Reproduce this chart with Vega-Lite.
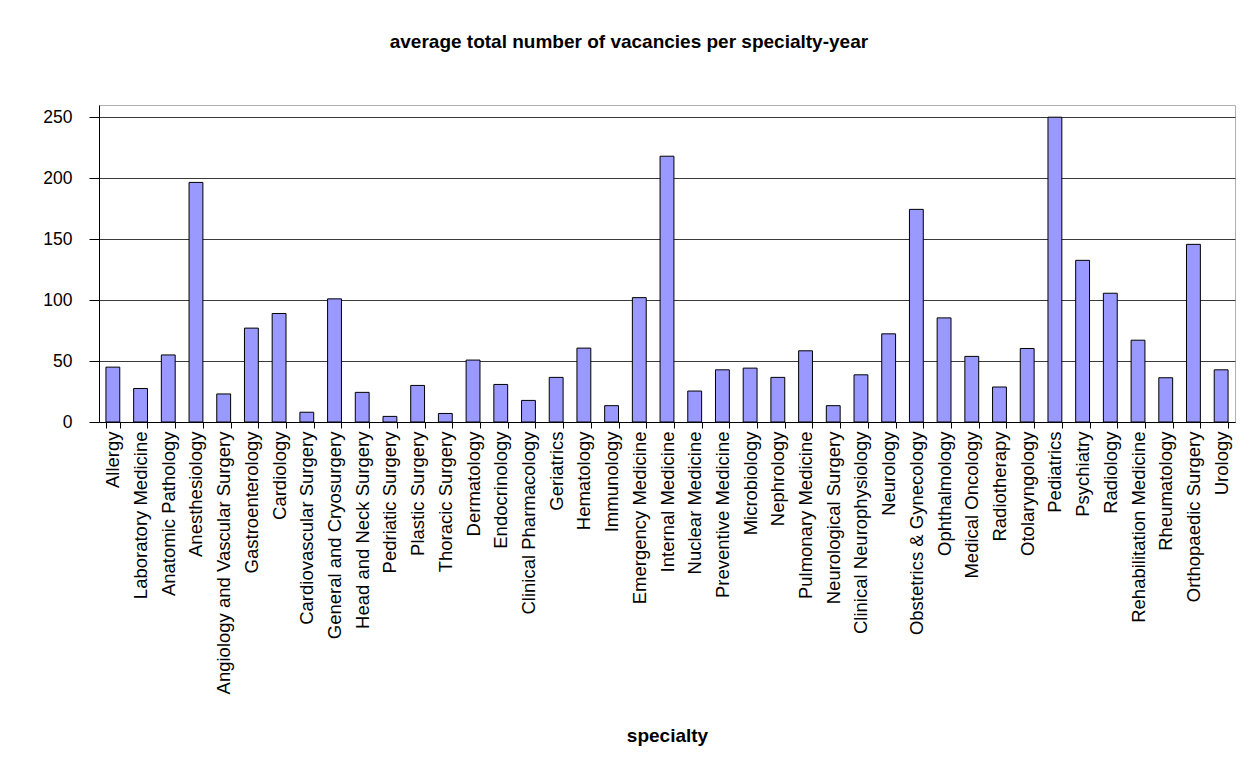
{
  "$schema": "https://vega.github.io/schema/vega-lite/v6.json",
  "width": 1136,
  "height": 317,
  "padding": {"left": 42, "top": 33, "right": 18, "bottom": 10},
  "background": "white",
  "title": {
    "text": "average total number of vacancies per specialty-year",
    "font": "Liberation Sans",
    "fontSize": 19,
    "fontWeight": "bold",
    "color": "black",
    "anchor": "middle",
    "frame": "bounds",
    "dx": -10,
    "offset": 53
  },
  "data": {
    "values": [
      {"specialty": "Allergy", "vacancies": 45},
      {"specialty": "Laboratory Medicine", "vacancies": 27.5},
      {"specialty": "Anatomic Pathology", "vacancies": 55},
      {"specialty": "Anesthesiology", "vacancies": 196.5},
      {"specialty": "Angiology and Vascular Surgery", "vacancies": 23},
      {"specialty": "Gastroenterology", "vacancies": 77},
      {"specialty": "Cardiology", "vacancies": 89},
      {"specialty": "Cardiovascular Surgery", "vacancies": 8},
      {"specialty": "General and Cryosurgery", "vacancies": 101},
      {"specialty": "Head and Neck Surgery", "vacancies": 24.3},
      {"specialty": "Pedriatic Surgery", "vacancies": 4.6},
      {"specialty": "Plastic Surgery", "vacancies": 30},
      {"specialty": "Thoracic Surgery", "vacancies": 7},
      {"specialty": "Dermatology", "vacancies": 50.8},
      {"specialty": "Endocrinology", "vacancies": 30.8},
      {"specialty": "Clinical Pharmacology", "vacancies": 17.7},
      {"specialty": "Geriatrics", "vacancies": 36.6},
      {"specialty": "Hematology", "vacancies": 60.6},
      {"specialty": "Immunology", "vacancies": 13.4},
      {"specialty": "Emergency Medicine", "vacancies": 102},
      {"specialty": "Internal Medicine", "vacancies": 218},
      {"specialty": "Nuclear Medicine", "vacancies": 25.4},
      {"specialty": "Preventive Medicine", "vacancies": 42.8},
      {"specialty": "Microbiology", "vacancies": 44.2},
      {"specialty": "Nephrology", "vacancies": 36.6},
      {"specialty": "Pulmonary Medicine", "vacancies": 58.4},
      {"specialty": "Neurological Surgery", "vacancies": 13.4},
      {"specialty": "Clinical Neurophysiology", "vacancies": 38.7},
      {"specialty": "Neurology", "vacancies": 72.3},
      {"specialty": "Obstetrics & Gynecology", "vacancies": 174.4},
      {"specialty": "Ophthalmology", "vacancies": 85.4},
      {"specialty": "Medical Oncology", "vacancies": 53.8},
      {"specialty": "Radiotherapy", "vacancies": 28.7},
      {"specialty": "Otolaryngology", "vacancies": 60.3},
      {"specialty": "Pediatrics", "vacancies": 250},
      {"specialty": "Psychiatry", "vacancies": 132.6},
      {"specialty": "Radiology", "vacancies": 105.6},
      {"specialty": "Rehabilitation Medicine", "vacancies": 67.1},
      {"specialty": "Rheumatology", "vacancies": 36.3},
      {"specialty": "Orthopaedic Surgery", "vacancies": 145.7},
      {"specialty": "Urology", "vacancies": 42.8}
    ]
  },
  "mark": {"type": "bar", "fill": "#9999FF", "stroke": "black", "strokeWidth": 1},
  "encoding": {
    "x": {
      "field": "specialty",
      "type": "nominal",
      "sort": null,
      "scale": {"paddingInner": 0.5, "paddingOuter": 0.25},
      "axis": {
        "title": "specialty",
        "titleFont": "Liberation Sans",
        "titleFontSize": 19,
        "titleFontWeight": "bold",
        "titleColor": "black",
        "titlePadding": 104,
        "labelAngle": -90,
        "labelFont": "Liberation Sans",
        "labelFontSize": 18.5,
        "labelColor": "black",
        "labelPadding": 3,
        "labelLimit": 400,
        "tickBand": "extent",
        "tickSize": 6,
        "tickColor": "black",
        "domainColor": "black",
        "grid": false
      }
    },
    "y": {
      "field": "vacancies",
      "type": "quantitative",
      "scale": {"domain": [0, 260], "nice": false},
      "axis": {
        "title": null,
        "values": [0, 50, 100, 150, 200, 250],
        "labelFont": "Liberation Sans",
        "labelFontSize": 17.5,
        "labelColor": "black",
        "labelPadding": 17,
        "tickSize": 10,
        "tickColor": "black",
        "domainColor": "black",
        "grid": true,
        "gridColor": "#3a3a3a",
        "gridWidth": 1
      }
    }
  },
  "config": {
    "view": {"stroke": "#b0b0b0", "strokeWidth": 1},
    "axis": {"domainWidth": 1, "tickWidth": 1}
  }
}
